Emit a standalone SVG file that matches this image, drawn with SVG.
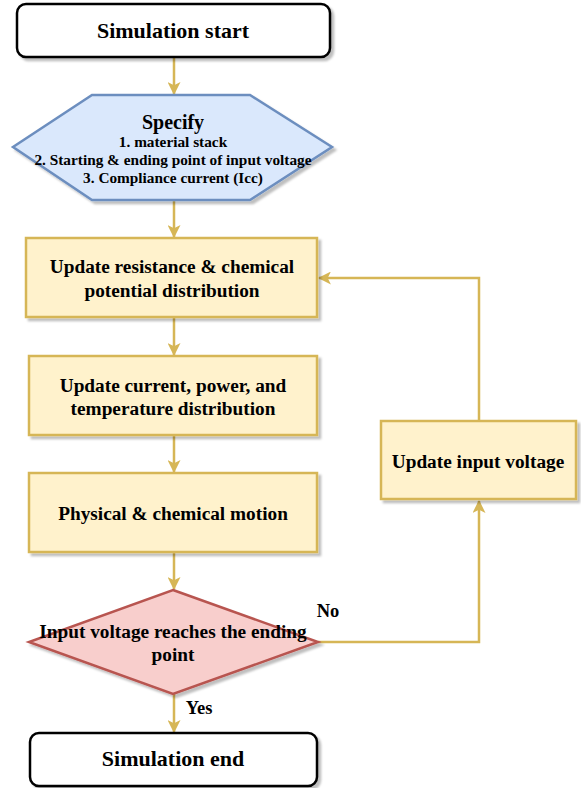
<svg xmlns="http://www.w3.org/2000/svg" width="581" height="788" viewBox="0 0 581 788" font-family="'Liberation Serif', 'DejaVu Serif', serif">
<defs>
<filter id="sh" x="-10%" y="-10%" width="130%" height="130%">
<feDropShadow dx="3" dy="3" stdDeviation="0.8" flood-color="#000" flood-opacity="0.25"/>
</filter>
<marker id="arr" viewBox="0 0 12 12" refX="11" refY="6" markerWidth="13" markerHeight="13" orient="auto" markerUnits="userSpaceOnUse">
<path d="M0,0 L12,6 L0,12 L3,6 Z" fill="#d6b656"/>
</marker>
</defs>
<style>
text{font-family:'Liberation Serif','DejaVu Serif',serif;font-weight:bold;fill:#000;text-anchor:middle}
.t{font-size:22px}
.m{font-size:19.3px}
.s{font-size:15.3px}
.term{fill:#fff;stroke:#000;stroke-width:2.5}
.proc{fill:#fff2cc;stroke:#d6b656;stroke-width:2.5}
.c{fill:none;stroke:#d6b656;stroke-width:2.5;marker-end:url(#arr)}
</style>
<g id="connectors">
<path class="c" d="M174,57 V94"/>
<path class="c" d="M174,200 V237"/>
<path class="c" d="M174,317 V355"/>
<path class="c" d="M174,435 V472"/>
<path class="c" d="M174,552 V589"/>
<path class="c" d="M174,694 V732"/>
<path class="c" d="M318,642 H479 V501"/>
<path class="c" d="M479,421 V278 H319"/>
<text x="328" y="617" class="m" style="font-size:18.5px">No</text>
<text x="199" y="714" class="m" style="font-size:18.5px">Yes</text>
</g>
<g id="start">
<rect class="term" x="17" y="4" width="313" height="53" rx="9" filter="url(#sh)"/>
<text x="173" y="38" class="t">Simulation start</text>
</g>
<g id="specify">
<polygon points="92,95 250,95 332,147 250,200 92,200 13,147" fill="#dae8fc" stroke="#6c8ebf" stroke-width="2.5" filter="url(#sh)"/>
<text x="173" y="129" style="font-size:20px">Specify</text>
<text x="173" y="147" class="s">1. material stack</text>
<text x="173" y="165" class="s">2. Starting &amp; ending point of input voltage</text>
<text x="173" y="183" class="s">3. Compliance current (Icc)</text>
</g>
<g id="update-resistance">
<rect class="proc" x="26" y="238" width="291" height="79" filter="url(#sh)"/>
<text x="172" y="273" class="m">Update resistance &amp; chemical</text>
<text x="172" y="297" class="m">potential distribution</text>
</g>
<g id="update-current">
<rect class="proc" x="29" y="356" width="288" height="79" filter="url(#sh)"/>
<text x="173" y="392" class="m">Update current, power, and</text>
<text x="173" y="415" class="m">temperature distribution</text>
</g>
<g id="motion">
<rect class="proc" x="29" y="473" width="288" height="79" filter="url(#sh)"/>
<text x="173" y="520" class="m">Physical &amp; chemical motion</text>
</g>
<g id="update-voltage">
<rect class="proc" x="381" y="421" width="195" height="78" filter="url(#sh)"/>
<text x="478" y="468" class="m">Update input voltage</text>
</g>
<g id="decision">
<polygon points="173,590 318,642 173,694 29,642" fill="#f8cecc" stroke="#b85450" stroke-width="2.5" filter="url(#sh)"/>
<text x="173" y="638" class="m">Input voltage reaches the ending</text>
<text x="173" y="661" class="m">point</text>
</g>
<g id="end">
<rect class="term" x="30" y="733" width="287" height="53" rx="9" filter="url(#sh)"/>
<text x="173" y="766" class="t">Simulation end</text>
</g>
</svg>
